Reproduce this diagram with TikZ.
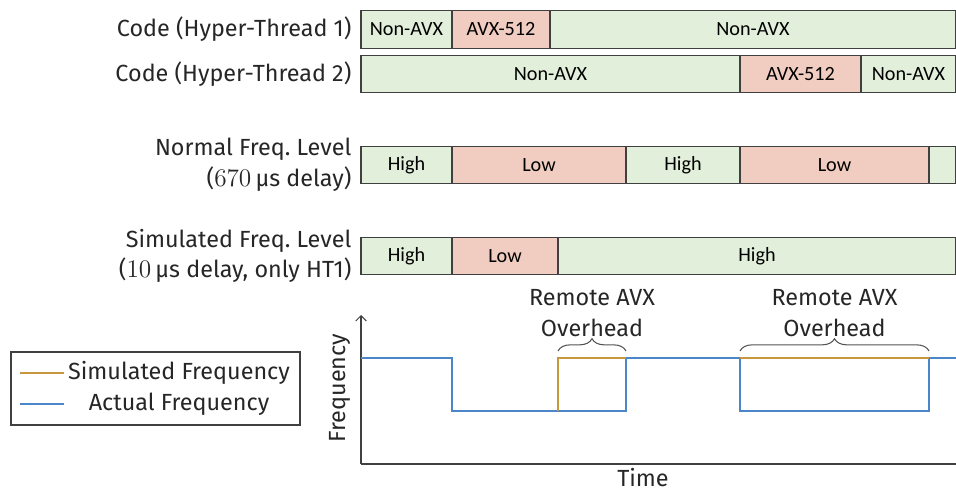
\documentclass[tikz,border=0pt]{standalone}
\usepackage{fontspec}
\setmainfont{Fira Sans}
\newfontfamily\barfont{Carlito}
\usetikzlibrary{positioning,decorations.pathreplacing,arrows.meta}
\definecolor{grn}{HTML}{E2EFDA}
\definecolor{red}{HTML}{F0CDC0}
\definecolor{edge}{HTML}{404040}
\definecolor{actual}{HTML}{4A86C8}
\definecolor{simul}{HTML}{C8963C}
\tikzset{
seg/.style={
  draw=edge,
  line width=0.6pt,
  minimum height=0.75cm,
  inner sep=0pt,
  font=\barfont\fontsize{11.5}{13}\selectfont
  },
lbl/.style={font=\fontsize{13.3}{17.5}\selectfont, text=black!85, align=right, inner sep=0pt},
plt/.style={line width=0.7pt},
%axis/.style={draw=edge},
}

\begin{document}
\begin{tikzpicture}[x=0.02cm,y=-0.02cm]
    \useasboundingbox (0,0) rectangle (956,492);
    % code rows
    \foreach \a/\b/\c/\t [count=\i] in {361/452/grn/Non-AVX, 452/550/red/AVX-512, 550/956/grn/Non-AVX}
        \node [seg, fill=\c, minimum width={(\b-\a)*0.02cm}] (ht1-\i) at ({(\a+\b)/2},29.5) {\t};
    \foreach \a/\b/\c/\t [count=\i] in {361/740/grn/Non-AVX, 740/861/red/AVX-512, 861/956/grn/Non-AVX}
        \node [seg, fill=\c, minimum width={(\b-\a)*0.02cm}] (ht2-\i) at ({(\a+\b)/2},74) {\t};
    % frequency levels
    \foreach \a/\b/\c/\t [count=\i] in {361/452/grn/High, 452/626/red/Low, 626/740/grn/High, 740/929/red/Low, 929/956/grn/{}}
        \node [seg, fill=\c, minimum width={(\b-\a)*0.02cm}] (nrm-\i) at ({(\a+\b)/2},165) {\t};
    \foreach \a/\b/\c/\t [count=\i] in {361/452/grn/High, 452/558/red/Low, 558/956/grn/High}
        \node [seg, fill=\c, minimum width={(\b-\a)*0.02cm}] (sim-\i) at ({(\a+\b)/2},256) {\t};

    \node [lbl, left=5pt of ht1-1] (lht1) {Code (Hyper-Thread 1)};
    \node [lbl, left=5pt of ht2-1] (lht2) {Code (Hyper-Thread 2)};
    \node [lbl, left=5pt of nrm-1] (lnrm) {Normal Freq.\ Level\\($670\,$µs delay)};
    \node [lbl, left=5pt of sim-1] (lsim) {Simulated Freq.\ Level\\($10\,$µs delay, only HT1)};

    % plot
    \coordinate (o) at (361,464);
    \coordinate (ytop) at (361,315);
    \coordinate (xend) at (956,464);
    \draw [edge, line width=0.6pt, -{Straight Barb[length=3pt]}] (o) -- (ytop);
    \draw [edge, line width=0.6pt] (o) -- (xend);
    \node [lbl, rotate=90] (yl) at (340,388) {Frequency};
    \node [lbl, anchor=south] (xl) at (643,487) {Time};

    \draw [plt, actual] (361,358) -- (452,358) -- (452,411) -- (626,411) -- (626,358) -- (740,358)
        -- (740,411) -- (929,411) -- (929,358) -- (956,358);
    \draw [plt, simul] (558,411) -- (558,358) -- (626,358);
    \draw [plt, simul] (740,358) -- (929,358);

    \draw [edge!90, line width=0.6pt, decorate, decoration={brace, amplitude=7pt}] (558,351) -- (626,351)
        node [lbl, midway, above=8pt, align=center] (ov1) {Remote AVX\\Overhead};
    \draw [edge!90, line width=0.6pt, decorate, decoration={brace, amplitude=7pt}] (740,351) -- (929,351)
        node [lbl, midway, above=8pt, align=center] (ov2) {Remote AVX\\Overhead};

    % legend
    \draw [edge, line width=0.6pt] (11,352) rectangle (300,425);
    \draw [plt, simul] (20,373) -- (64,373);
    \draw [plt, actual] (20,404) -- (64,404);
    \node [lbl, align=center] (lg1) at (179,373) {Simulated Frequency};
    \node [lbl, align=center] (lg2) at (179,404) {Actual Frequency};
\end{tikzpicture}
\end{document}
